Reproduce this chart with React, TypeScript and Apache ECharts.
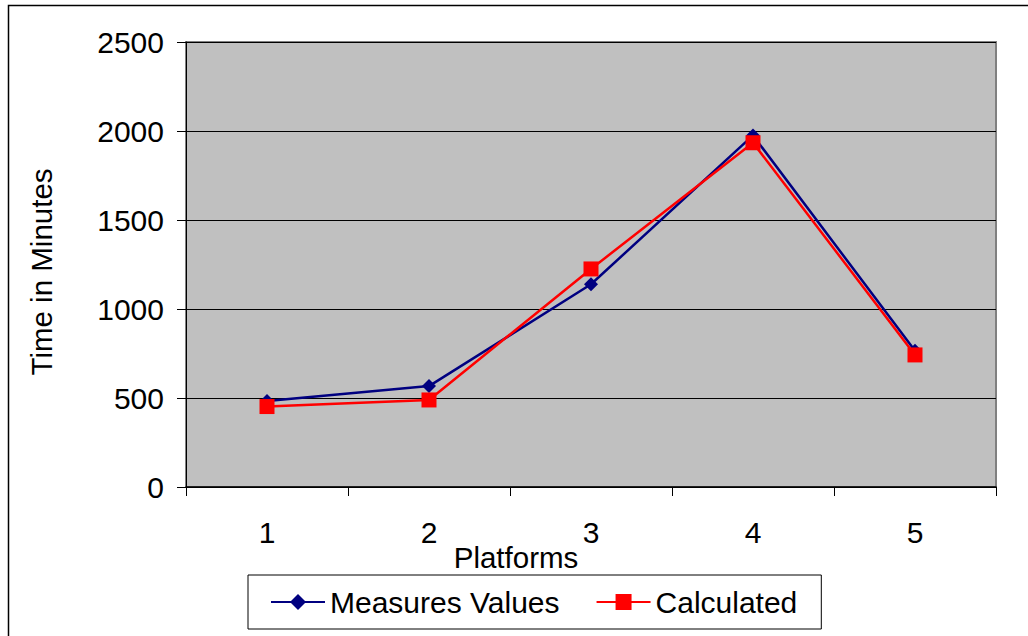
import React, { useEffect, useRef } from "react";
import * as echarts from "echarts";

const categories = ["1", "2", "3", "4", "5"];
const measuresValues = [483, 567, 1139, 1975, 765];
const calculatedValues = [452, 489, 1225, 1934, 742];
const yTicks = { min: 0, max: 2500, interval: 500 };

const FONT = "Liberation Sans, Arial, sans-serif";

export default function App() {
  const ref = useRef<HTMLDivElement>(null);
  useEffect(() => {
    if (!ref.current) return;
    const chart = echarts.init(ref.current, null, { renderer: "svg" });
    chart.setOption({
      animation: false,
      backgroundColor: "#ffffff",
      textStyle: { fontFamily: FONT },
      grid: {
        left: 186,
        top: 42,
        right: 32,
        bottom: 149,
        show: true,
        backgroundColor: "#C0C0C0",
        borderColor: "#808080",
        borderWidth: 2,
      },
      xAxis: {
        type: "category",
        data: categories,
        boundaryGap: true,
        axisLine: { lineStyle: { color: "#000", width: 1.5 } },
        axisTick: { show: true, length: 9, lineStyle: { color: "#000" } },
        axisLabel: { color: "#000", fontSize: 30, margin: 30, fontFamily: FONT },
        splitLine: { show: false },
      },
      yAxis: {
        type: "value",
        min: yTicks.min,
        max: yTicks.max,
        interval: yTicks.interval,
        axisLine: { show: true, lineStyle: { color: "#000", width: 1 } },
        axisTick: { show: true, length: 9, lineStyle: { color: "#000" } },
        axisLabel: {
          color: "#000",
          fontSize: 30,
          margin: 22,
          fontFamily: FONT,
          formatter: (v: number) => String(v),
        },
        splitLine: { show: true, lineStyle: { color: "#000", width: 1 } },
      },
      legend: {
        left: 248,
        top: 575,
        padding: [12, 24, 12, 22],
        itemGap: 36,
        itemWidth: 54,
        itemHeight: 20,
        borderColor: "#000",
        borderWidth: 1,
        textStyle: { color: "#000", fontSize: 30, fontFamily: FONT },
        data: ["Measures Values", "Calculated"],
      },
      graphic: [
        {
          type: "rect",
          shape: { x: 8.5, y: 5.5, width: 1100, height: 700 },
          style: { fill: "none", stroke: "#000", lineWidth: 1.5 },
          silent: true,
          z: -1,
        },
        {
          type: "text",
          x: 41,
          y: 272,
          rotation: Math.PI / 2,
          style: {
            text: "Time in Minutes",
            fontSize: 29.5,
            fontFamily: FONT,
            fill: "#000",
            align: "center",
            verticalAlign: "middle",
          },
        },
        {
          type: "text",
          x: 516,
          y: 557,
          style: {
            text: "Platforms",
            fontSize: 29.5,
            fontFamily: FONT,
            fill: "#000",
            align: "center",
            verticalAlign: "middle",
          },
        },
      ],
      series: [
        {
          name: "Measures Values",
          type: "line",
          data: measuresValues,
          symbol: "diamond",
          symbolSize: 14,
          lineStyle: { color: "#000080", width: 2.5 },
          itemStyle: { color: "#000080" },
        },
        {
          name: "Calculated",
          type: "line",
          data: calculatedValues,
          symbol: "rect",
          symbolSize: 15,
          lineStyle: { color: "#FF0000", width: 2.5 },
          itemStyle: { color: "#FF0000" },
        },
      ],
    });
    return () => chart.dispose();
  }, []);
  return (
    <div
      ref={ref}
      style={{ position: "fixed", left: 0, top: 0, width: 1028, height: 636 }}
    />
  );
}
